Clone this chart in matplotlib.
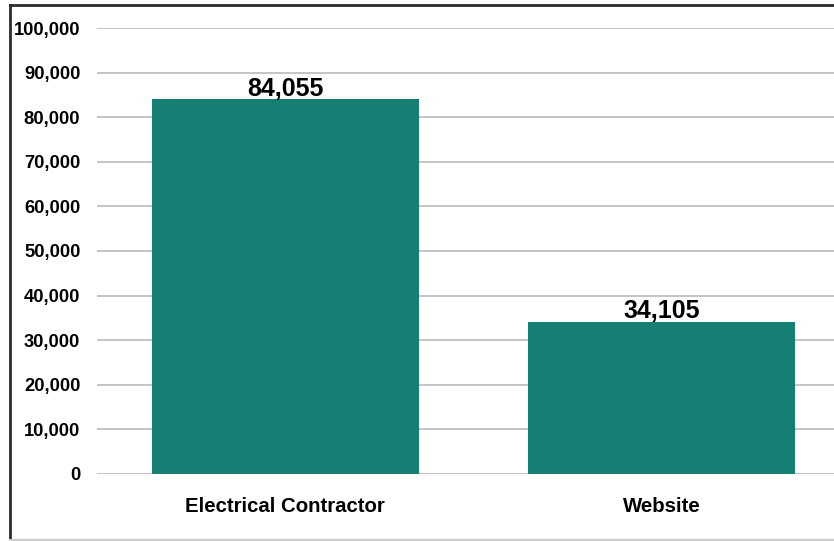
import matplotlib
matplotlib.use("Agg")
import matplotlib.pyplot as plt
from matplotlib.lines import Line2D
from matplotlib.ticker import FuncFormatter

categories = ["Electrical Contractor", "Website"]
values = [84055, 34105]
yticks = [0, 10000, 20000, 30000, 40000, 50000, 60000, 70000, 80000, 90000, 100000]

W, H = 834, 541
fig = plt.figure(figsize=(W / 100, H / 100), dpi=100)
fig.patch.set_facecolor("white")
plt.rcParams['font.family'] = ['Liberation Sans', 'DejaVu Sans']

ax = fig.add_axes([97 / W, 1 - 474 / H, 753 / W, 446 / H])
x = list(range(len(categories)))
bars = ax.bar(x, values, width=0.708, color="#157F74", zorder=3)
ax.set_xlim(-0.5, len(categories) - 0.5)
ax.set_ylim(0, 100000)
ax.set_yticks(yticks)
ax.yaxis.set_major_formatter(FuncFormatter(lambda v, p: f"{int(v):,}"))
ax.set_xticks(x)
ax.set_xticklabels(categories)
ax.grid(axis="y", color="#c4c4c4", linewidth=1.4, zorder=0)
ax.set_axisbelow(True)
for s in ax.spines.values():
    s.set_visible(False)
ax.tick_params(axis="y", length=0, pad=12, labelsize=13.2)
ax.tick_params(axis="x", length=0, pad=16.5, labelsize=14.7)
for lab in ax.get_yticklabels() + ax.get_xticklabels():
    lab.set_fontweight("bold")
ax.set_clip_on(False)

for xi, v in zip(x, values):
    ax.annotate(f"{v:,}", (xi, v), xytext=(0, 2.5), textcoords="offset points",
                ha="center", va="baseline", fontsize=18, fontweight="bold")

# border frame
fig.add_artist(Line2D([9.5 / W, 9.5 / W], [1 - 5 / H, 1 - 540 / H], color="#2b2b2b", linewidth=2, transform=fig.transFigure))
fig.add_artist(Line2D([9.5 / W, 1.0], [1 - 5 / H, 1 - 5 / H], color="#2b2b2b", linewidth=2, transform=fig.transFigure))
fig.add_artist(Line2D([9.5 / W, 1.0], [1 - 540 / H, 1 - 540 / H], color="#cccccc", linewidth=1.5, transform=fig.transFigure))

fig.savefig("out.png", dpi=100)
